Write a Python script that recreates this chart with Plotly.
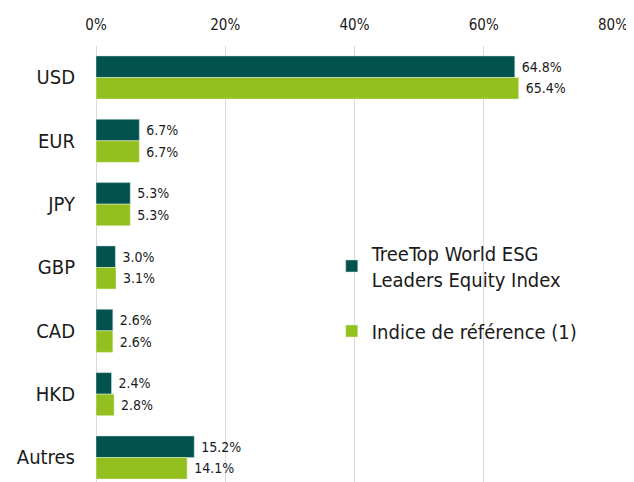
import plotly.graph_objects as go

categories = ["USD", "EUR", "JPY", "GBP", "CAD", "HKD", "Autres"]
fund_values = [64.8, 6.7, 5.3, 3.0, 2.6, 2.4, 15.2]
bench_values = [65.4, 6.7, 5.3, 3.1, 2.6, 2.8, 14.1]
fund_name = "TreeTop World ESG<br>Leaders Equity Index"
bench_name = "Indice de référence (1)"
tick_vals = [0, 20, 40, 60, 80]
tick_text = ["0%", "20%", "40%", "60%", "80%"]

font_family = "DejaVu Sans Condensed, Liberation Sans Narrow, Liberation Sans, sans-serif"

fig = go.Figure()
fig.add_trace(go.Bar(
    y=categories, x=fund_values, orientation="h", name=fund_name, legendgroup="a",
    marker=dict(color="#02524f", line=dict(color="#cfe3e0", width=0.5)),
    text=[f"\u00a0{v:.1f}%" for v in fund_values], textposition="outside",
    textfont=dict(size=14, color="#1a1a1a", family=font_family), cliponaxis=False,
))
fig.add_trace(go.Bar(
    y=categories, x=bench_values, orientation="h", name=bench_name, legendgroup="b",
    marker=dict(color="#93c01f", line=dict(color="#e6f0c8", width=0.5)),
    text=[f"\u00a0{v:.1f}%" for v in bench_values], textposition="outside",
    textfont=dict(size=14, color="#1a1a1a", family=font_family), cliponaxis=False,
))

fig.update_layout(
    width=626, height=474,
    margin=dict(l=88, r=21, t=38, b=0),
    paper_bgcolor="white", plot_bgcolor="white",
    barmode="group", bargap=0.32, bargroupgap=0.0,
    font=dict(family=font_family, color="#1a1a1a"),
    xaxis=dict(
        side="top", range=[0, 80], tickvals=tick_vals, ticktext=tick_text,
        showgrid=True, gridcolor="#d9d9d9", gridwidth=1,
        zeroline=True, zerolinecolor="#d9d9d9", zerolinewidth=1,
        tickfont=dict(size=15, family=font_family), ticks="", ticklabelstandoff=12,
        automargin=False, ticklabeloverflow="allow",
    ),
    yaxis=dict(
        range=[6.387, -0.497], showgrid=False, zeroline=False,
        tickfont=dict(size=20, family=font_family), ticks="", ticklabelstandoff=20,
        automargin=False,
    ),
    legend=dict(
        x=0.456, y=0.57, xanchor="left", yanchor="top",
        font=dict(size=20, family=font_family), bgcolor="rgba(0,0,0,0)",
        tracegroupgap=23, itemwidth=30, traceorder="grouped",
    ),
)

fig.write_html("out.html")
